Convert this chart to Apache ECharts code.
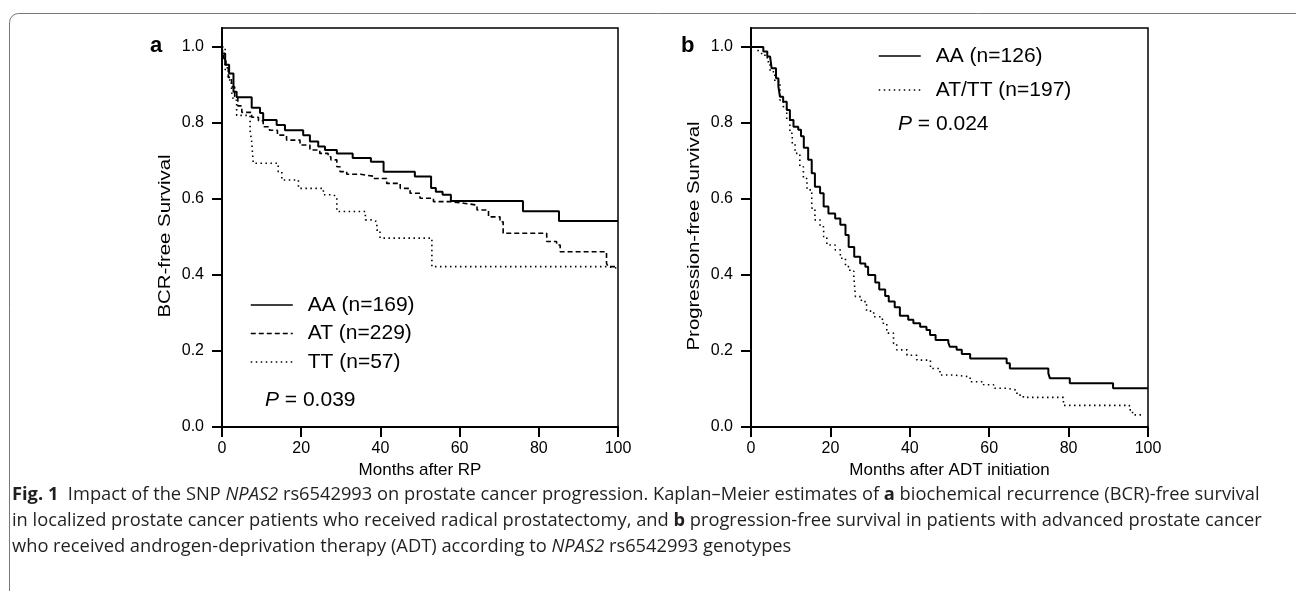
<!DOCTYPE html>
<html>
<head>
<meta charset="utf-8">
<script src="https://cdn.jsdelivr.net/npm/echarts@6/dist/echarts.min.js"></script>
<style>
  html, body { margin: 0; padding: 0; background: #fff; }
  #chart { width: 1296px; height: 591px; }
</style>
</head>
<body>
<div id="chart"></div>
<script>
// a: months after RP vs BCR-free survival
const aMonthsAA = [0, 0, 0.8, 1.8, 2.9, 3.7, 7.5, 9.6, 10.4, 13.8, 15.9, 20.5, 22.2, 24.3, 26, 29, 33, 37.6, 40.8, 48.7, 52.8, 54, 55.7, 57.8, 76, 85.1, 100]
const aSurvAA = [1.0, 0.983, 0.953, 0.93, 0.882, 0.868, 0.84, 0.826, 0.808, 0.795, 0.781, 0.768, 0.751, 0.738, 0.729, 0.72, 0.708, 0.698, 0.672, 0.659, 0.629, 0.619, 0.611, 0.595, 0.568, 0.542, 0.542]
const aMonthsAT = [0, 0.4, 1.0, 1.6, 2.4, 3.2, 4.0, 5.0, 7.5, 9.2, 10.4, 12, 14, 16.3, 19.7, 22.2, 24.7, 26.8, 27.5, 29, 29.8, 31.5, 35, 38.2, 41.6, 45, 47.5, 50, 53.4, 57.6, 61, 64.4, 67.3, 70.2, 71, 82, 84.5, 85.4, 97.1, 97.5, 100]
const aSurvAT = [1.0, 0.97, 0.945, 0.92, 0.895, 0.87, 0.845, 0.828, 0.815, 0.806, 0.79, 0.781, 0.768, 0.755, 0.742, 0.729, 0.72, 0.711, 0.703, 0.685, 0.672, 0.665, 0.66, 0.654, 0.641, 0.628, 0.615, 0.602, 0.593, 0.589, 0.584, 0.571, 0.553, 0.54, 0.51, 0.488, 0.479, 0.461, 0.431, 0.422, 0.422]
const aMonthsTT = [0, 0.8, 1.6, 2.4, 2.9, 3.7, 7.1, 7.5, 7.9, 14.2, 15.1, 19.3, 25.6, 28.1, 29, 36.2, 38.2, 39.1, 39.9, 53, 97, 100]
const aSurvTT = [1.0, 0.94, 0.913, 0.882, 0.86, 0.82, 0.78, 0.75, 0.694, 0.672, 0.65, 0.628, 0.611, 0.606, 0.567, 0.545, 0.54, 0.518, 0.497, 0.422, 0.418, 0.418]

// b: months after ADT initiation vs progression-free survival
const bMonthsAA = [0, 3.1, 4.1, 4.8, 5.2, 6.3, 6.9, 7.3, 8.1, 9.0, 9.8, 10.7, 11.9, 12.6, 13.3, 14.4, 15.3, 16.1, 17.4, 18.3, 19.5, 21.2, 22.5, 23.8, 24.6, 26.0, 27.5, 28.8, 29.5, 31.3, 32.3, 33.8, 34.7, 36.2, 37.5, 39.6, 40.9, 42.6, 44.2, 45.1, 46.5, 49.7, 50.1, 51.8, 53.1, 55.2, 64.4, 65.2, 74.9, 75.3, 80.3, 91.2, 100]
const bSurvAA = [1.0, 0.988, 0.975, 0.97, 0.944, 0.918, 0.896, 0.869, 0.856, 0.834, 0.808, 0.79, 0.782, 0.765, 0.735, 0.703, 0.668, 0.632, 0.615, 0.58, 0.562, 0.549, 0.532, 0.505, 0.474, 0.448, 0.43, 0.422, 0.40, 0.38, 0.362, 0.345, 0.33, 0.315, 0.293, 0.282, 0.273, 0.264, 0.255, 0.242, 0.229, 0.222, 0.211, 0.203, 0.192, 0.18, 0.168, 0.154, 0.141, 0.128, 0.115, 0.102, 0.102]
const bMonthsATTT = [0, 1.8, 2.3, 3.5, 4.1, 4.8, 6.0, 7.3, 8.1, 9.0, 9.8, 10.4, 11.1, 12.3, 13.2, 14.1, 15.3, 16.1, 17.4, 18.3, 19.1, 21.2, 22.5, 23.8, 24.9, 25.9, 26.3, 27.8, 29.1, 30.9, 33.1, 34.2, 35.9, 36.7, 39.3, 41.8, 45.2, 47.6, 51.0, 55.2, 58.6, 61.1, 64.4, 67.0, 68.6, 78.7, 95.3, 96.1, 99]
const bSurvATTT = [1.0, 0.99, 0.983, 0.975, 0.961, 0.935, 0.909, 0.86, 0.843, 0.808, 0.773, 0.745, 0.72, 0.685, 0.654, 0.624, 0.576, 0.545, 0.527, 0.501, 0.479, 0.466, 0.444, 0.422, 0.41, 0.396, 0.343, 0.33, 0.305, 0.29, 0.273, 0.247, 0.22, 0.203, 0.189, 0.176, 0.154, 0.137, 0.132, 0.119, 0.111, 0.102, 0.097, 0.084, 0.078, 0.057, 0.045, 0.032, 0.032]

const xTicks = [0, 20, 40, 60, 80, 100]
const yTicks = [0, 0.2, 0.4, 0.6, 0.8, 1.0]

const font = '"Liberation Sans", Arial, sans-serif'
const capFont = '"Open Sans", sans-serif'
const capSize = 18.3

function pairs (t, s) {
  return t.map((v, i) => [v, s[i]])
}

function xAxisFor (gridIndex, name) {
  return {
    gridIndex,
    type: 'value',
    min: 0,
    max: 100,
    interval: 20,
    name,
    nameLocation: 'middle',
    nameGap: 35,
    nameTextStyle: { fontFamily: font, fontSize: 17, color: '#000' },
    axisLine: { lineStyle: { color: '#000', width: 2 } },
    axisTick: { length: 10, customValues: xTicks, lineStyle: { color: '#000', width: 2 } },
    axisLabel: { customValues: xTicks, margin: 14, fontFamily: font, fontSize: 16, color: '#000' },
    splitLine: { show: false }
  }
}

function yAxisFor (gridIndex) {
  return {
    gridIndex,
    type: 'value',
    min: 0,
    max: 1.05,
    axisLine: { lineStyle: { color: '#000', width: 2 } },
    axisTick: { length: 10, customValues: yTicks, lineStyle: { color: '#000', width: 2 } },
    axisLabel: { customValues: yTicks, margin: 18, fontFamily: font, fontSize: 16, color: '#000', formatter: v => v.toFixed(1) },
    splitLine: { show: false }
  }
}

function curve (name, idx, t, s, dash, width) {
  return {
    name,
    type: 'line',
    xAxisIndex: idx,
    yAxisIndex: idx,
    step: 'end',
    symbol: 'none',
    data: pairs(t, s),
    lineStyle: { color: '#000', width, type: dash },
    itemStyle: { color: '#000' },
    animation: false
  }
}

// rotated y titles, stretched a little along their length like the source
function yTitle (text, x) {
  return {
    type: 'text',
    x,
    y: 236,
    rotation: Math.PI / 2,
    scaleX: 1.2,
    style: { text, font: '17px "Liberation Sans", Arial', fill: '#000', align: 'center', verticalAlign: 'middle' }
  }
}

function pText (text, left, top) {
  return {
    type: 'text',
    left,
    top,
    style: {
      text: '{i|P} = ' + text,
      font: '21px "Liberation Sans", Arial',
      fill: '#000',
      rich: { i: { fontStyle: 'italic', fontSize: 21, fontFamily: font, fill: '#000' } }
    }
  }
}

const legendText = { fontFamily: font, fontSize: 21, color: '#000', lineHeight: 22, padding: [0, 0, 0, 10] }

const captionLines = [
  '{b|Fig. 1}  Impact of the SNP {i|NPAS2} rs6542993 on prostate cancer progression. Kaplan–Meier estimates of {b|a} biochemical recurrence (BCR)-free survival',
  'in localized prostate cancer patients who received radical prostatectomy, and {b|b} progression-free survival in patients with advanced prostate cancer',
  'who received androgen-deprivation therapy (ADT) according to {i|NPAS2} rs6542993 genotypes'
]

const chart = echarts.init(document.getElementById('chart'))
chart.setOption({
  backgroundColor: '#fff',
  animation: false,
  grid: [
    { left: 222, top: 28, width: 396, height: 399, show: true, borderColor: '#000', borderWidth: 1.5 },
    { left: 751, top: 28, width: 397, height: 399, show: true, borderColor: '#000', borderWidth: 1.5 }
  ],
  xAxis: [xAxisFor(0, 'Months after RP'), xAxisFor(1, 'Months after ADT initiation')],
  yAxis: [yAxisFor(0), yAxisFor(1)],
  legend: [
    {
      data: ['AA (n=169)', 'AT (n=229)', 'TT (n=57)'],
      orient: 'vertical',
      left: 250,
      top: 294,
      padding: 0,
      itemWidth: 42,
      itemHeight: 14,
      itemGap: 6.5,
      selectedMode: false,
      itemStyle: { opacity: 0 },
      lineStyle: { width: 1.5 },
      textStyle: legendText
    },
    {
      data: ['AA (n=126)', 'AT/TT (n=197)'],
      orient: 'vertical',
      left: 878,
      top: 45,
      padding: 0,
      itemWidth: 42,
      itemHeight: 14,
      itemGap: 12,
      selectedMode: false,
      itemStyle: { opacity: 0 },
      lineStyle: { width: 1.5 },
      textStyle: legendText
    }
  ],
  series: [
    curve('AA (n=169)', 0, aMonthsAA, aSurvAA, 'solid', 2),
    curve('AT (n=229)', 0, aMonthsAT, aSurvAT, [5, 3], 1.6),
    curve('TT (n=57)', 0, aMonthsTT, aSurvTT, [1.5, 3.5], 1.6),
    curve('AA (n=126)', 1, bMonthsAA, bSurvAA, 'solid', 2),
    curve('AT/TT (n=197)', 1, bMonthsATTT, bSurvATTT, [1.5, 3.5], 1.6)
  ],
  graphic: [
    {
      type: 'rect',
      silent: true,
      z: -10,
      shape: { x: 9.5, y: 13.5, width: 1400, height: 700, r: 9 },
      style: { fill: 'none', stroke: '#777', lineWidth: 1 }
    },
    { type: 'text', left: 150, top: 35, style: { text: 'a', font: 'bold 22px "Liberation Sans", Arial', fill: '#000' } },
    { type: 'text', left: 681, top: 35, style: { text: 'b', font: 'bold 22px "Liberation Sans", Arial', fill: '#000' } },
    yTitle('BCR-free Survival', 165),
    yTitle('Progression-free Survival', 694),
    pText('0.039', 265, 390),
    pText('0.024', 898, 114),
    ...captionLines.map((line, i) => ({
      type: 'text',
      left: 12,
      top: 486 + i * 26,
      style: {
        text: line,
        font: capSize + 'px "Open Sans", sans-serif',
        fill: '#231f20',
        rich: {
          b: { fontWeight: 'bold', fontSize: capSize, fontFamily: capFont, fill: '#231f20' },
          i: { fontStyle: 'italic', fontSize: capSize, fontFamily: capFont, fill: '#231f20' }
        }
      }
    }))
  ]
})
</script>
</body>
</html>
